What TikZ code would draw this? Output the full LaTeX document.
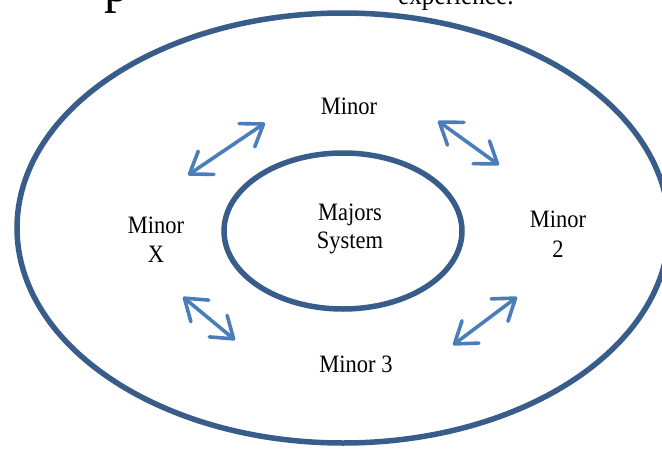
\documentclass[tikz,border=0pt]{standalone}
\usepackage{fontspec}
\setmainfont{Liberation Serif}[FakeStretch=0.9]
\usetikzlibrary{arrows.meta,shapes.geometric}
\definecolor{ringblue}{RGB}{56,93,138}
\definecolor{arrowblue}{RGB}{74,126,187}
\tikzset{
  ring/.style={draw=ringblue, line width=5.5pt, ellipse, inner sep=0pt},
  barb/.tip={Straight Barb[length=20pt,width=28pt,line width=3.6pt,line cap=round,line join=round]},
  dblarrow/.style={draw=arrowblue, line width=3.6pt, line cap=round, barb-barb},
  lbl/.style={font=\fontsize{25}{28}\selectfont, anchor=base, inner sep=0pt},
  toptext/.style={anchor=base west, inner sep=0pt},
}
\begin{document}
\begin{tikzpicture}[x=1pt,y=-1pt]
\useasboundingbox (0,0) rectangle (662,458);
\clip (0,0) rectangle (662,458);
\fill[white] (0,0) rectangle (662,458);

% partial text from the page above
\node[toptext, font=\fontsize{56}{60}\selectfont] (ptxt) at (104,1) {p};
\node[toptext, font=\fontsize{28}{30}\selectfont] (exptxt) at (398,4) {experience.};

% rings
\node[ring, minimum width=652pt, minimum height=430pt] (outer) at (343,228) {};
\node[ring, minimum width=238pt, minimum height=156pt] (inner) at (343,231) {};

% labels
\node[lbl] (mtop) at (349,114) {Minor};
\node[lbl] (maj1) at (350,220) {Majors};
\node[lbl] (maj2) at (350,248) {System};
\node[lbl] (mx1) at (156,233) {Minor};
\node[lbl] (mx2) at (156,262) {X};
\node[lbl] (m21) at (558,227) {Minor};
\node[lbl] (m22) at (558,257) {2};
\node[lbl] (m3) at (356,372) {Minor 3};

% arrows
\coordinate (a1s) at (188,175);
\coordinate (a1e) at (265,123);
\coordinate (a2s) at (438,121);
\coordinate (a2e) at (499,165);
\coordinate (a3s) at (183,297);
\coordinate (a3e) at (235,340);
\coordinate (a4s) at (517,297);
\coordinate (a4e) at (453,345);
\draw[dblarrow] (a1s) -- (a1e);
\draw[dblarrow] (a2s) -- (a2e);
\draw[dblarrow] (a3s) -- (a3e);
\draw[dblarrow] (a4s) -- (a4e);
\end{tikzpicture}
\end{document}
